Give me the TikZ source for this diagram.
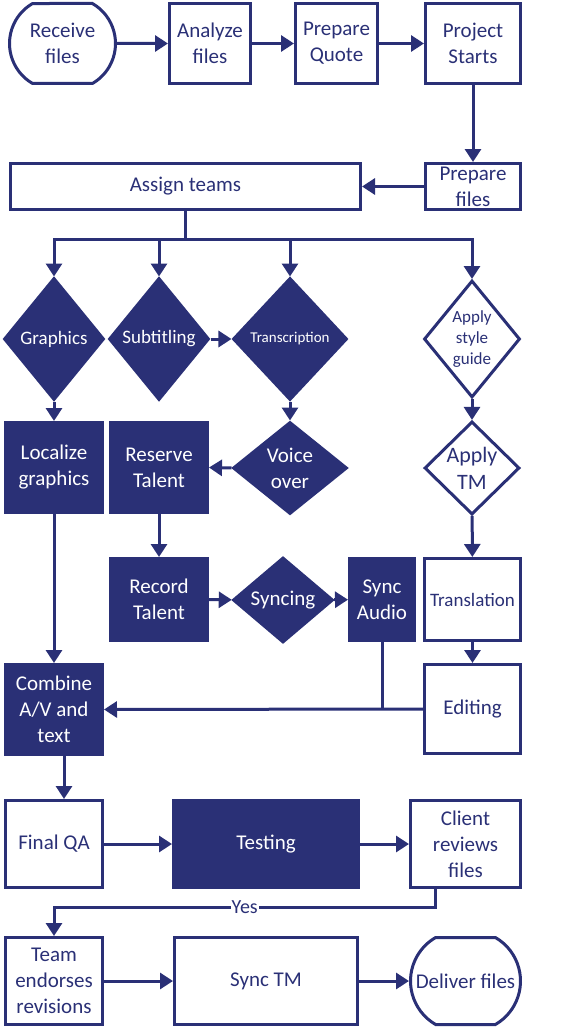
\documentclass[tikz,border=0pt]{standalone}
\usepackage{fontspec}
\setmainfont{Carlito}
\usetikzlibrary{shapes.geometric,shapes.misc,arrows.meta}
\definecolor{navy}{RGB}{42,48,118}

\begin{document}
\begin{tikzpicture}[x=1pt,y=-1pt,line width=3pt,
  box/.style={draw=navy,text=navy,align=center,inner sep=0pt,
    font=\fontsize{21}{26}\selectfont},
  full/.style={box,fill=navy,text=white},
  term/.style={box,rounded rectangle,rounded rectangle arc length=120},
  odia/.style={box,diamond},
  dia/.style={odia,fill=navy,text=white},
  link/.style={draw=navy,-{Triangle[length=13pt,width=16pt]}},
  yes/.style={fill=white,text=navy,inner sep=1pt,font=\fontsize{20}{24}\selectfont}]
  \useasboundingbox (0,0) rectangle (565,1030);

  \node[term,minimum width=106pt,minimum height=80pt] (recv) at (62.5,43.5) {Receive\\files};
  \node[box,minimum width=81pt,minimum height=80pt] (anal) at (210,43.5) {Analyze\\files};
  \node[box,minimum width=82pt,minimum height=80pt] (quote) at (336.5,43.5) {Prepare\\Quote};
  \node[box,minimum width=95pt,minimum height=80pt] (start) at (473,43.5) {Project\\Starts};
  \node[box,minimum width=95pt,minimum height=46pt] (prep) at (473,186.5) {Prepare\\files};
  \node[box,minimum width=350pt,minimum height=46pt] (assign) at (185.5,186.5) {Assign teams};

  \node[dia,minimum width=100pt,minimum height=122pt,font=\fontsize{19}{23}\selectfont] (graph) at (54,339) {Graphics};
  \node[dia,minimum width=100pt,minimum height=122pt,font=\fontsize{19}{23}\selectfont] (subt) at (159,339) {Subtitling};
  \node[dia,minimum width=114pt,minimum height=122pt,font=\fontsize{15}{18}\selectfont] (trans) at (290,339) {Transcription};
  \node[odia,minimum width=95pt,minimum height=117pt,font=\fontsize{17}{21}\selectfont] (style) at (472,339) {Apply\\style\\guide};

  \node[full,minimum width=97pt,minimum height=90pt] (local) at (54,467.5) {Localize\\graphics};
  \node[full,minimum width=97pt,minimum height=90pt] (reserve) at (159,467.5) {Reserve\\Talent};
  \node[dia,minimum width=114pt,minimum height=92pt] (voice) at (290,468) {Voice\\over};
  \node[odia,minimum width=95pt,minimum height=87pt,font=\fontsize{22}{27}\selectfont] (tm) at (472,468) {Apply\\TM};

  \node[full,minimum width=97pt,minimum height=82pt] (record) at (159,599.5) {Record\\Talent};
  \node[dia,minimum width=100pt,minimum height=85pt] (syncing) at (283,600) {Syncing};
  \node[full,minimum width=65pt,minimum height=82pt] (audio) at (382,599.5) {Sync\\Audio};
  \node[box,minimum width=96pt,minimum height=82pt,font=\fontsize{19}{23}\selectfont] (transl) at (472.5,599.5) {Translation};
  \node[box,minimum width=96pt,minimum height=89pt] (edit) at (472.5,709) {Editing};
  \node[full,minimum width=97pt,minimum height=90pt] (comb) at (54,709.5) {Combine\\A/V and\\text};

  \node[box,minimum width=97pt,minimum height=87pt] (qa) at (54,844) {Final QA};
  \node[full,minimum width=185pt,minimum height=87pt] (test) at (266,844) {Testing};
  \node[box,minimum width=110pt,minimum height=87pt] (client) at (465.5,844) {Client\\reviews\\files};
  \node[box,minimum width=97pt,minimum height=87pt] (team) at (54,981) {Team\\endorses\\revisions};
  \node[box,minimum width=183pt,minimum height=87pt] (stm) at (266,981) {Sync TM};
  \node[term,minimum width=110pt,minimum height=87pt] (deliv) at (465.5,981) {Deliver files};

  \draw[link] (recv) -- (anal);
  \draw[link] (anal) -- (quote);
  \draw[link] (quote) -- (start);
  \draw[link] (start) -- (prep);
  \draw[link] (prep) -- (assign);
  \draw[navy] (assign.south) -- ++(0,28) coordinate (fork);
  \draw[link] (fork) -| (graph.north);
  \draw[link] (fork) -| (subt.north);
  \draw[link] (fork) -| (trans.north);
  \draw[link] (fork) -| (style.north);
  \draw[link] (subt) -- (trans);
  \draw[link] (graph) -- (local);
  \draw[link] (trans) -- (voice);
  \draw[link] (voice.west) -- (reserve.east);
  \draw[link] (style) -- (tm);
  \draw[link] (reserve) -- (record);
  \draw[link] (record) -- (syncing);
  \draw[link] (syncing) -- (audio);
  \draw[link] (tm) -- (transl);
  \draw[link] (transl) -- (edit);
  \draw[link] (local) -- (comb);
  \draw[link] (edit.west) -- (comb.east);
  \draw[navy] (audio.south) -- (audio.south |- edit.west);
  \draw[link] ([xshift=10pt]comb.south) -- ([xshift=10pt]qa.north);
  \draw[link] (qa) -- (test);
  \draw[link] (test) -- (client);
  \draw[link] ([xshift=-30pt]client.south) -- ++(0,18) -| node[yes,pos=0.25] {Yes} (team.north);
  \draw[link] (team) -- (stm);
  \draw[link] (stm) -- (deliv);
\end{tikzpicture}
\end{document}
